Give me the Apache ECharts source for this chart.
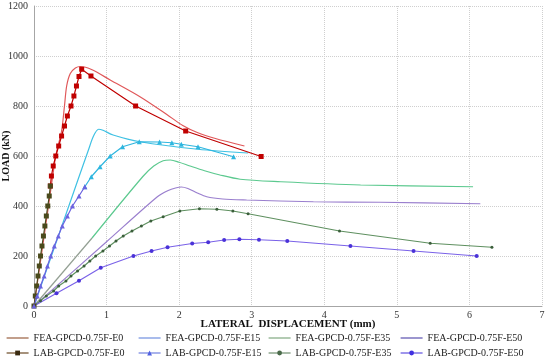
<!DOCTYPE html>
<html>
<head>
<meta charset="utf-8">
<script src="https://cdn.jsdelivr.net/npm/echarts@6/dist/echarts.min.js"></script>
<style>html,body{margin:0;padding:0;background:#fff}#c{width:550px;height:359px}</style>
</head>
<body>
<div id="c"></div>
<script>
// ---- data (lateral displacement mm, load kN) ----
var xTicks = [0, 1, 2, 3, 4, 5, 6, 7];
var yTicks = [0, 200, 400, 600, 800, 1000, 1200];
var seriesNames = ['FEA-GPCD-0.75F-E0', 'FEA-GPCD-0.75F-E15', 'FEA-GPCD-0.75F-E35', 'FEA-GPCD-0.75F-E50',
                   'LAB-GPCD-0.75F-E0', 'LAB-GPCD-0.75F-E15', 'LAB-GPCD-0.75F-E35', 'LAB-GPCD-0.75F-E50'];

var feaE0 = [[0,0],[0.1,200],[0.2,400],[0.3,600],[0.38,700],[0.42,800],[0.45,880],[0.5,930],[0.57,952],[0.64,958],[0.8,945],[1.05,904],[1.46,837],[1.83,766],[2.05,722],[2.25,694],[2.5,670],[2.9,640]];
var feaE15 = [[0,0],[0.3,250],[0.6,500],[0.75,624],[0.82,680],[0.89,707],[0.95,703],[1.09,684],[1.46,657],[2.26,627],[2.95,612]];
var feaE35 = [[0,0],[0.8,272],[1.5,518],[1.65,560],[1.78,581],[1.88,584],[2.0,575],[2.15,560],[2.35,541],[2.55,525],[2.84,507],[3.4,497],[4.5,484],[6.05,477]];
var feaE50 = [[0,0],[1.0,257],[1.7,437],[1.85,462],[1.95,472],[2.03,476],[2.12,470],[2.25,452],[2.38,437],[2.6,428],[2.93,424],[3.85,417],[4.77,415],[6.15,409]];

var labE0 = [[0,0],[0.018,40],[0.037,80],[0.055,120],[0.073,160],[0.09,200],[0.11,240],[0.13,280],[0.15,320],[0.17,360],[0.19,400],[0.21,440],[0.225,480],[0.24,520],[0.265,560],[0.30,600],[0.34,640],[0.38,680],[0.42,720],[0.46,760],[0.51,800],[0.55,840],[0.585,880],[0.62,918],[0.657,947],[0.785,920],[1.40,800],[2.09,700],[3.13,598]];
var labE15 = [[0,0],[0.045,40],[0.09,80],[0.14,120],[0.185,160],[0.23,200],[0.28,240],[0.335,280],[0.39,320],[0.46,360],[0.53,400],[0.62,440],[0.70,477],[0.79,517],[0.91,557],[1.05,600],[1.22,637],[1.45,657],[1.73,656],[1.90,653],[2.03,647],[2.26,637],[2.75,597]];
var labE35 = [[0,0],[0.09,21],[0.17,40],[0.27,60],[0.34,80],[0.44,100],[0.51,120],[0.60,140],[0.69,160],[0.77,180],[0.85,200],[0.95,220],[1.04,240],[1.13,260],[1.23,280],[1.35,300],[1.48,320],[1.61,340],[1.78,357],[2.01,380],[2.28,389],[2.52,387],[2.74,380],[2.95,369],[4.21,300],[5.46,251],[6.31,235]];
var labE50 = [[0,0],[0.31,51],[0.62,101],[0.92,153],[1.37,200],[1.62,220],[1.84,235],[2.18,250],[2.40,255],[2.62,264],[2.83,267],[3.10,265],[3.49,260],[4.36,240],[5.23,220],[6.10,200]];

var seriesData = [feaE0, feaE15, feaE35, feaE50, labE0, labE15, labE35, labE50];

// ---- styling ----
var serif = 'Liberation Serif';
var lineColors = ['#e0585a', '#3fc1e3', '#5cc98f', '#9a7fce', '#c00000', '#2fb6df', '#5f9060', '#7a62e8'];
var markColors = [null, null, null, null, '#c00000', '#2fb6df', '#3b5e3b', '#4a32d8'];
// lower-part colour (drawn below a load threshold), as in the picture
var lowColors = [null, null, '#939f93', null, '#4a4a1c', '#6b63e0', null, null];
var lowLimit = [0, 0, 420, 0, 490, 500, 0, 0];
var symbols = ['none', 'none', 'none', 'none', 'rect', 'triangle', 'circle', 'circle'];
var symSizes = [0, 0, 0, 0, 5, 5, 3, 4];
var legendLine = ['#9a6040', '#7090e0', '#80a880', '#5a50b0', '#6b4a25', '#7080e0', '#709070', '#6050e0'];
var legendMark = [null, null, null, null, '#3a2a10', '#5060e0', '#4a6a4a', '#4030e0'];
var legendLeft = [6, 138, 268, 400];
var legendTop = [333, 348];

function mk(name, d, i, lc, mc, z) {
  var isFea = i < 4;
  return {
    name: name, type: 'line', data: d,
    smooth: isFea ? 0.3 : false,
    symbol: symbols[i], symbolSize: symSizes[i], showSymbol: !isFea,
    lineStyle: { width: 1.2, color: lc },
    itemStyle: { color: mc },
    z: z
  };
}

var series = [];
seriesData.forEach(function (d, i) {
  var isFea = i < 4;
  var z = isFea ? 2 : 3;
  var mc = markColors[i] || lineColors[i];
  if (lowColors[i]) {
    var k = 0;
    while (k < d.length && d[k][1] < lowLimit[i]) k++;
    var low = d.slice(0, k);
    var high = d.slice(k - 1);
    series.push(mk(seriesNames[i], low, i, lowColors[i], lowColors[i], z + 0.1));
    series.push(mk(seriesNames[i] + ' ', high, i, lineColors[i], mc, z));
  } else {
    series.push(mk(seriesNames[i], d, i, lineColors[i], mc, z));
  }
});

var legends = seriesNames.map(function (n, i) {
  var item = { name: n, lineStyle: { color: legendLine[i], width: 1.2 } };
  if (legendMark[i]) item.itemStyle = { color: legendMark[i] };
  else item.itemStyle = { opacity: 0 };
  return {
    data: [item], left: legendLeft[i % 4], top: legendTop[i < 4 ? 0 : 1],
    padding: 0, itemWidth: 22, itemHeight: 6,
    textStyle: { fontFamily: serif, fontSize: 10, color: '#222' },
    selectedMode: false
  };
});

var chart = echarts.init(document.getElementById('c'), null, { renderer: 'canvas' });
chart.setOption({
  animation: false,
  backgroundColor: '#fff',
  grid: { left: 34, right: 8, top: 6, bottom: 53, containLabel: false, outerBoundsMode: 'none' },
  xAxis: {
    type: 'value', min: xTicks[0], max: xTicks[xTicks.length - 1], interval: 1,
    name: 'LATERAL  DISPLACEMENT (mm)', nameLocation: 'middle', nameGap: 13, nameMoveOverlap: false,
    nameTextStyle: { fontFamily: serif, fontSize: 11, fontWeight: 'bold', color: '#111' },
    axisLine: { show: true, lineStyle: { color: '#a6a6a6', width: 1 } },
    axisTick: { show: false },
    axisLabel: { fontFamily: serif, fontSize: 10, color: '#333', margin: 4 },
    splitLine: { show: true, lineStyle: { type: 'dotted', color: '#cfcfcf', width: 1 } }
  },
  yAxis: {
    type: 'value', min: yTicks[0], max: yTicks[yTicks.length - 1], interval: 200,
    name: 'LOAD (kN)', nameLocation: 'middle', nameGap: 23, nameRotate: 90, nameMoveOverlap: false,
    nameTextStyle: { fontFamily: serif, fontSize: 10, fontWeight: 'bold', color: '#111' },
    axisLine: { show: true, lineStyle: { color: '#a6a6a6', width: 1 } },
    axisTick: { show: false },
    axisLabel: { fontFamily: serif, fontSize: 10, color: '#333', margin: 6,
                 formatter: function (v) { return String(v); } },
    splitLine: { show: true, lineStyle: { type: 'dotted', color: '#cfcfcf', width: 1 } }
  },
  legend: legends,
  series: series
});
</script>
</body>
</html>
